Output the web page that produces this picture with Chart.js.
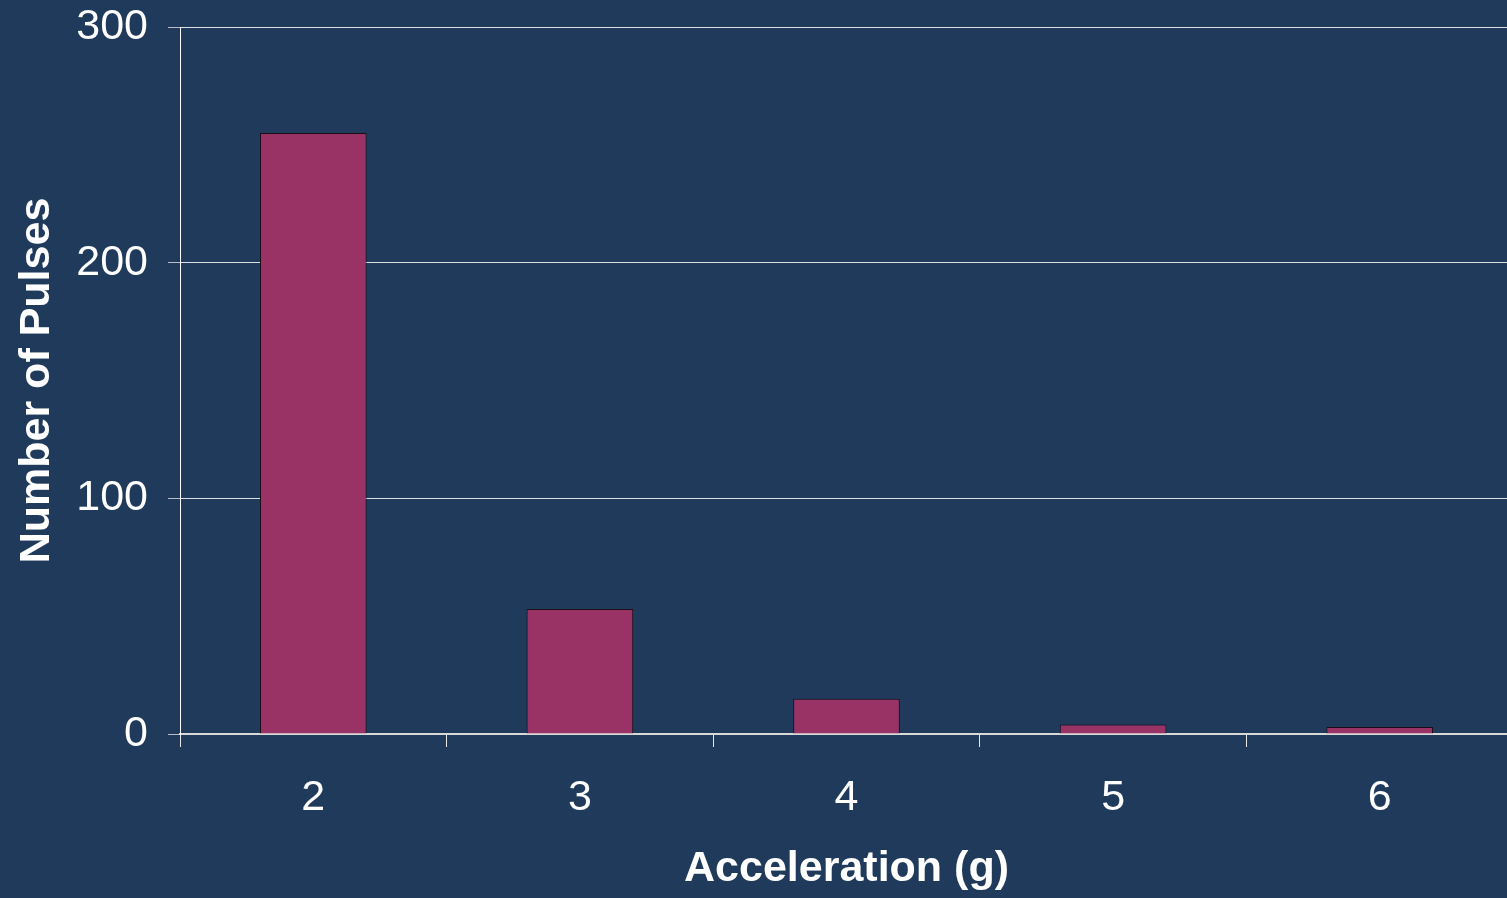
<!DOCTYPE html>
<html>
<head>
<meta charset="utf-8">
<script src="https://cdn.jsdelivr.net/npm/chart.js@4/dist/chart.umd.min.js"></script>
<style>
  html, body { margin: 0; padding: 0; background: #1f3a5a; overflow: hidden; }
  #wrap { width: 1513px; height: 898px; position: relative; }
</style>
</head>
<body>
<div id="wrap"><canvas id="c"></canvas></div>
<script>
const categories = ['2', '3', '4', '5', '6'];
const pulses = [255, 53, 15, 4, 3];
const yTicks = [0, 100, 200, 300];
const xTitle = 'Acceleration (g)';
const yTitle = 'Number of Pulses';

const FONT = '"Liberation Sans", Arial, sans-serif';

new Chart(document.getElementById('c'), {
  type: 'bar',
  data: {
    labels: categories,
    datasets: [{
      data: pulses,
      backgroundColor: '#993366',
      borderColor: '#1a0d16',
      borderWidth: 1,
      barPercentage: 0.4,
      categoryPercentage: 1.0
    }]
  },
  options: {
    responsive: true,
    maintainAspectRatio: false,
    animation: false,
    layout: { padding: { top: 27, right: 0, bottom: 0, left: 0 } },
    plugins: { legend: { display: false }, tooltip: { enabled: false } },
    scales: {
      x: {
        afterFit(s) { s.height = 164; s.paddingLeft = 0; s.paddingRight = 0; },
        grid: { offset: true, drawOnChartArea: false, color: '#e6e6e6', tickLength: 13, lineWidth: 1 },
        border: { color: '#d9d9d9', width: 2 },
        ticks: { color: '#ffffff', font: { family: FONT, size: 43 }, padding: 25, maxRotation: 0 },
        title: { display: true, text: xTitle, color: '#ffffff', font: { family: FONT, size: 43, weight: 'bold' }, padding: { top: 0, bottom: 3 } }
      },
      y: {
        min: 0, max: 300,
        afterFit(s) { s.width = 180; s.paddingTop = 0; s.paddingBottom = 0; },
        afterBuildTicks(s) { s.ticks = yTicks.map(v => ({ value: v })); },
        grid: { color: 'rgba(255,255,255,0.85)', tickColor: '#b8bec8', tickLength: 12, lineWidth: 1 },
        border: { color: '#ffffff', width: 1 },
        ticks: { color: '#ffffff', font: { family: FONT, size: 43 }, padding: 20 },
        title: { display: true, text: yTitle, color: '#ffffff', font: { family: FONT, size: 43, weight: 'bold' }, padding: { top: 11, bottom: 0 } }
      }
    }
  }
});
</script>
</body>
</html>
